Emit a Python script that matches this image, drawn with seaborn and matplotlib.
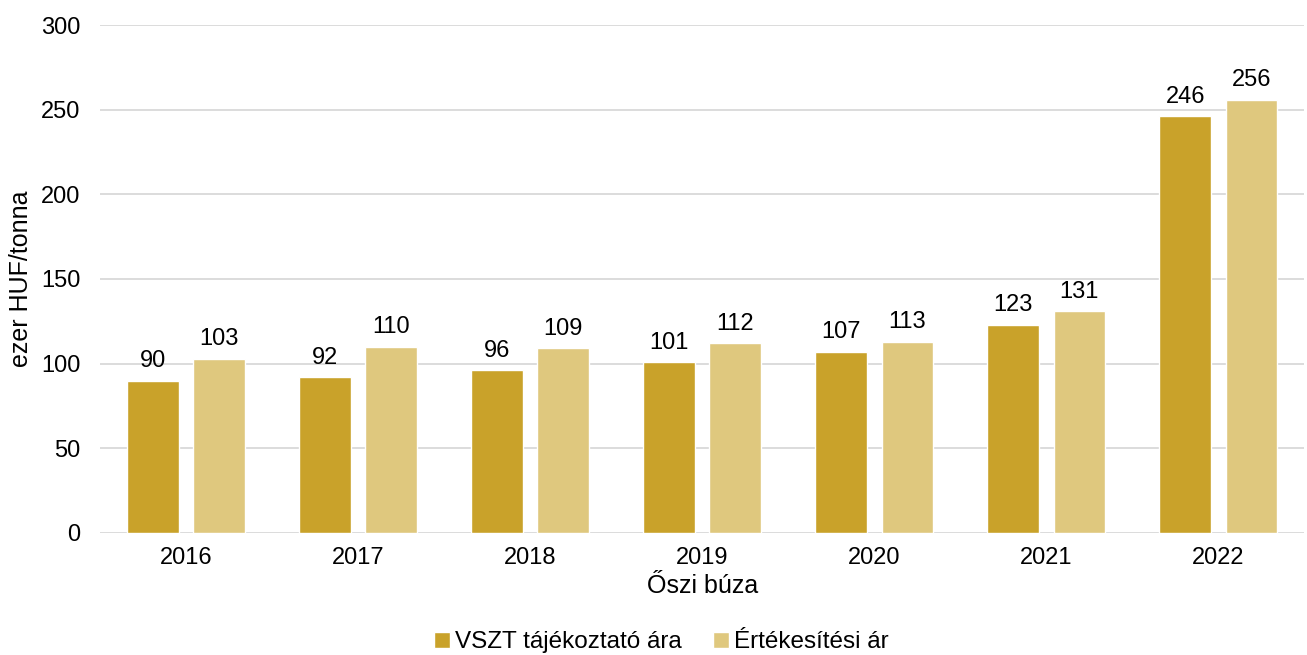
import pandas as pd
import seaborn as sns
import matplotlib.pyplot as plt

# adatok
years = ['2016', '2017', '2018', '2019', '2020', '2021', '2022']
vszt = [90, 92, 96, 101, 107, 123, 246]
ertekesitesi = [103, 110, 109, 112, 113, 131, 256]
series_names = ['VSZT tájékoztató ára', 'Értékesítési ár']
colors = ['#C9A22A', '#DFC87E']

df = pd.DataFrame({
    'ev': years * 2,
    'ar': vszt + ertekesitesi,
    'sorozat': [series_names[0]] * len(years) + [series_names[1]] * len(years),
})

sns.set_style('white')
plt.rcParams['font.family'] = ['Liberation Sans', 'DejaVu Sans']
plt.rcParams['text.color'] = 'black'
plt.rcParams['axes.labelcolor'] = 'black'
plt.rcParams['xtick.color'] = 'black'
plt.rcParams['ytick.color'] = 'black'

fig = plt.figure(figsize=(13.07, 6.55), dpi=100)
ax = fig.add_axes([0.0765, 0.1863, 0.9215, 0.7755])

sns.barplot(ax=ax, data=df, x='ev', y='ar', hue='sorozat',
            palette=colors, width=0.77, gap=0.22, saturation=1)

for cont in ax.containers:
    ax.bar_label(cont, fmt='%d', padding=6, fontsize=17)

ax.set_ylim(0, 300)
ax.set_yticks(range(0, 301, 50))
ax.yaxis.grid(True, color='#d9d9d9', linewidth=1.3)
ax.set_axisbelow(True)
for s in ax.spines.values():
    s.set_visible(False)
ax.tick_params(axis='y', labelsize=17, length=0, pad=14)
ax.tick_params(axis='x', labelsize=17, length=0, pad=10)
ax.set_xlabel('Őszi búza', fontsize=18, labelpad=4)
ax.set_ylabel('ezer HUF/tonna', fontsize=18, labelpad=6)

ax.legend(loc='lower center', bbox_to_anchor=(0.466, -0.28), ncol=2,
          frameon=False, fontsize=17.5, handlelength=0.65, handleheight=0.65,
          handletextpad=0.2, columnspacing=1.3)

fig.savefig('out.png', dpi=100)
